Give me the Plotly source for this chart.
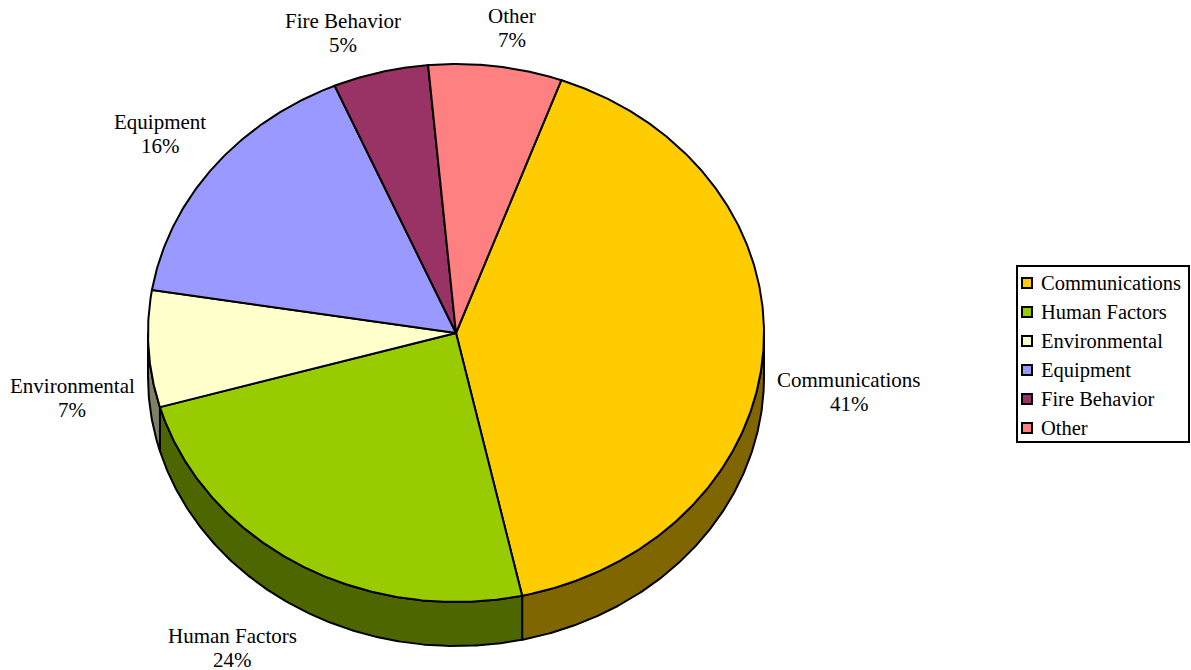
import numpy as np
import plotly.graph_objects as go

# Share of incidents by contributing factor
categories = ["Communications", "Human Factors", "Environmental", "Equipment", "Fire Behavior", "Other"]
values = [41, 24, 7, 16, 5, 7]

# Face colours and the darker tone used for the pie's rim
top_colors = ["#FFCC00", "#99CC00", "#FFFFCC", "#9999FF", "#993366", "#FF8080"]
side_colors = ["#806600", "#4D6600", "#808066", "#4D4D80", "#4D1A33", "#804040"]

# Outside-label anchor points (centre of the two-line text block), in pixels
label_pos = [(849, 392), (232, 648), (72, 398), (160, 134), (343, 33), (512, 28)]

W, H = 1191, 670
CX, CY = 456, 333          # centre of the top face
RX, RY = 308, 269          # ellipse radii of the tilted disc
DEPTH = 44                 # thickness of the disc
START = 20.0               # first slice starts this many deg clockwise from 12 o'clock
FONT = "Liberation Serif"


def ellipse(theta_deg, dy=0.0):
    t = np.radians(theta_deg)
    return CX + RX * np.sin(t), CY - RY * np.cos(t) + dy


def arc(a0, a1, dy=0.0):
    n = max(4, int(abs(a1 - a0) * 2))
    th = np.linspace(a0, a1, n)
    x, y = ellipse(th, dy)
    return list(x), list(y)


total = float(sum(values))
bounds = np.concatenate([[0], np.cumsum(values)]) / total * 360.0 + START

fig = go.Figure()

# Rim: only the front half (90..270 deg, clockwise from top) is visible
for i, cat in enumerate(categories):
    a0, a1 = bounds[i], bounds[i + 1]
    for lo, hi in ((90, 270), (450, 630)):
        s0, s1 = max(a0, lo), min(a1, hi)
        if s1 <= s0:
            continue
        xt, yt = arc(s0, s1)
        xb, yb = arc(s1, s0, DEPTH)
        fig.add_trace(go.Scatter(
            x=xt + xb + [xt[0]], y=yt + yb + [yt[0]],
            mode="lines", fill="toself", fillcolor=side_colors[i],
            line=dict(color="black", width=2), hoverinfo="skip", showlegend=False,
        ))

# Top faces of the slices
for i, cat in enumerate(categories):
    a0, a1 = bounds[i], bounds[i + 1]
    xa, ya = arc(a0, a1)
    fig.add_trace(go.Scatter(
        x=[CX] + xa + [CX], y=[CY] + ya + [CY],
        mode="lines", fill="toself", fillcolor=top_colors[i],
        line=dict(color="black", width=2), name=cat,
        hovertemplate=f"{cat}: {values[i] / total:.0%}<extra></extra>",
        showlegend=False,
    ))

annotations = []
for i, cat in enumerate(categories):
    lx, ly = label_pos[i]
    pct = f"{round(100 * values[i] / total)}%"
    for text, yy in ((cat, ly - 12), (pct, ly + 12)):
        annotations.append(dict(
            x=lx, y=yy, xref="x", yref="y", text=text, showarrow=False,
            xanchor="center", yanchor="middle",
            font=dict(family=FONT, size=21, color="black"),
        ))

# Legend box with one swatch per category
shapes = [dict(type="rect", xref="x", yref="y", x0=1017, y0=266, x1=1189, y1=442,
               line=dict(color="black", width=2), fillcolor="white", layer="below")]
for i, cat in enumerate(categories):
    yc = 283 + 29 * i
    shapes.append(dict(type="rect", xref="x", yref="y", x0=1022, y0=yc - 5, x1=1032, y1=yc + 5,
                       line=dict(color="black", width=2), fillcolor=top_colors[i]))
    annotations.append(dict(
        x=1039, y=yc, xref="x", yref="y", text=cat, showarrow=False,
        xanchor="left", yanchor="middle",
        font=dict(family=FONT, size=20.5, color="black"),
    ))

fig.update_layout(
    width=W, height=H,
    margin=dict(l=0, r=0, t=0, b=0),
    paper_bgcolor="white", plot_bgcolor="white",
    xaxis=dict(range=[0, W], visible=False, fixedrange=True),
    yaxis=dict(range=[H, 0], visible=False, fixedrange=True),
    shapes=shapes, annotations=annotations,
    showlegend=False,
)

fig.write_html("out.html")
